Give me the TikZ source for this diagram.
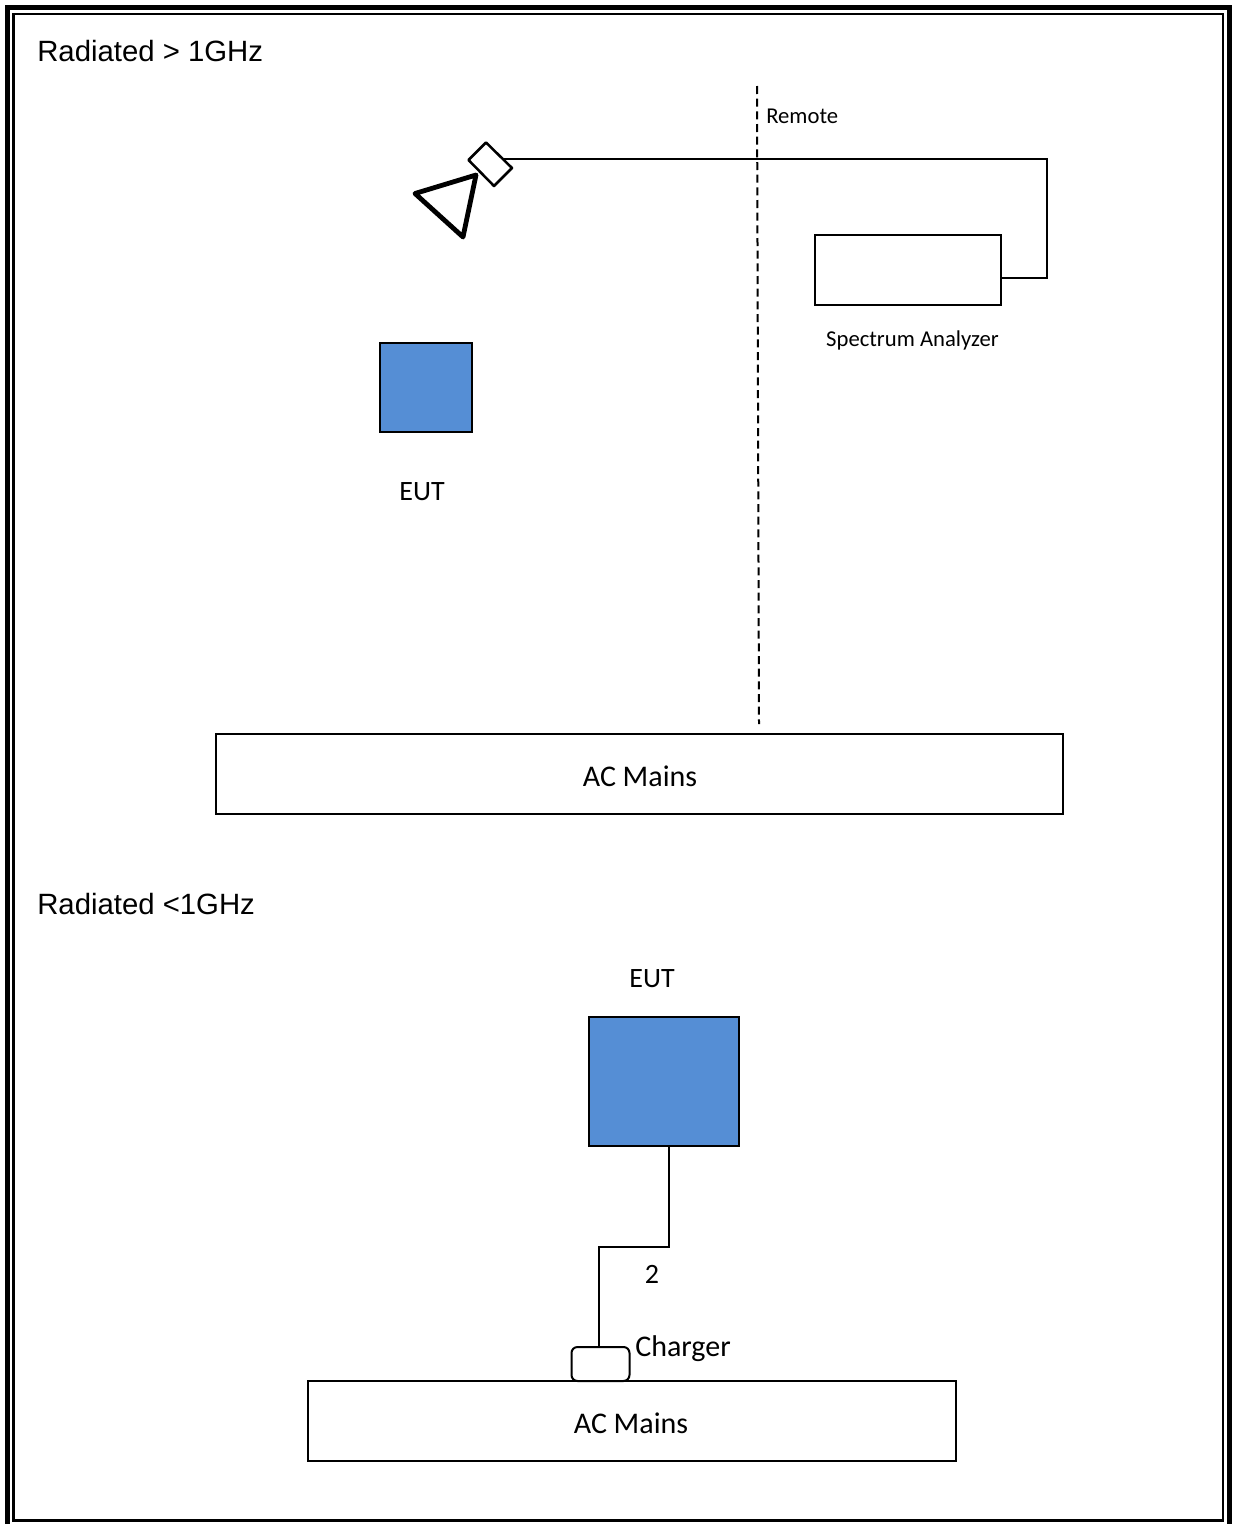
\documentclass[tikz,border=0pt]{standalone}
\usepackage{fontspec}
\setmainfont{Carlito}
\newfontfamily\arialf{Liberation Sans}
\usetikzlibrary{calc}
\definecolor{eutblue}{HTML}{558ED5}
\tikzset{
  x=0.75pt,y=-0.75pt,
  box/.style={draw=black,line width=1.5pt,rectangle,inner sep=0pt,outer sep=0pt,anchor=center},
  eut/.style={box,fill=eutblue},
  wire/.style={draw=black,line width=1.5pt},
  hdr/.style={font=\arialf\fontsize{22}{24}\selectfont,inner sep=0pt,anchor=west},
  lblbig/.style={font=\fontsize{21}{24}\selectfont,inner sep=0pt},
  lblwide/.style={font=\fontsize{22.5}{24}\selectfont,inner sep=0pt},
  lblsmall/.style={font=\fontsize{17}{20}\selectfont,inner sep=0pt},
}
\begin{document}
\begin{tikzpicture}
\useasboundingbox (0,0) rectangle (1233,1524);
\fill[white] (0,0) rectangle (1233,1524);
% frame
\draw[black,line width=3.9pt] (7.6,7.6) rectangle (1229.6,1527);
\draw[black,line width=1.8pt] (13.4,14) rectangle (1223,1520.5);
% headings
\node[hdr] (h1) at (37,51) {Radiated > 1GHz};
\node[hdr] (h2) at (37,904) {Radiated <1GHz};
% top diagram
\coordinate (dashA) at (757,86);
\coordinate (dashB) at (759,724);
\draw[black,line width=1.5pt,dash pattern=on 6pt off 3.5pt] (dashA) -- (dashB);
\node[lblsmall,anchor=west] (remote) at (766,116) {Remote};
\node[box,minimum width=139.5pt,minimum height=52.5pt] (sa) at (908,270) {};
\node[lblsmall] (salbl) at (912.5,340) {Spectrum Analyzer};
\node[eut,minimum width=69pt,minimum height=67pt] (eut1) at (426,387.5) {};
\node[lblbig] (eut1lbl) at (422,491.5) {EUT};
\node[box,minimum width=635pt,minimum height=60pt] (ac1) at (639.5,774) {};
\node[lblwide] (ac1lbl) at (640,776) {AC Mains};
% antenna
\coordinate (d1) at (486,142.5);
\coordinate (d2) at (512,168);
\coordinate (d3) at (494,186);
\coordinate (d4) at (468.5,160);
\coordinate (port) at (503,158.5);
\coordinate (corner1) at (1047,158.5);
\draw[wire,line join=miter] (port) -- (corner1) |- (sa.east|-0,278);
\draw[black,line width=1.9pt,line join=round,fill=white] (d1) -- (d2) -- (d3) -- (d4) -- cycle;
\coordinate (h1a) at (415,193.5);
\coordinate (h2a) at (476,175);
\coordinate (h3a) at (463,237);
\draw[black,line width=3.6pt,line join=round] (h1a) -- (h2a) -- (h3a) -- cycle;
% bottom diagram
\node[lblbig] (eut2lbl) at (652,978.5) {EUT};
\node[eut,minimum width=112.5pt,minimum height=97pt] (eut2) at (664,1081.5) {};
\node[box,minimum width=486.5pt,minimum height=60pt] (ac2) at (632,1421) {};
\node[lblwide] (ac2lbl) at (631,1423) {AC Mains};
\node[box,rounded corners=4.5pt,minimum width=43.5pt,minimum height=25.5pt] (chg) at (600.5,1364) {};
\node[lblwide,anchor=west] (chglbl) at (635,1348.5) {Charger};
\node[lblbig] (two) at (652,1274) {2};
\coordinate (bend1) at (669,1247);
\coordinate (bend2) at (599,1247);
\draw[wire] (eut2.south-|bend1) -- (bend1) -- (bend2) -- (bend2|-chg.north);
\end{tikzpicture}
\end{document}
